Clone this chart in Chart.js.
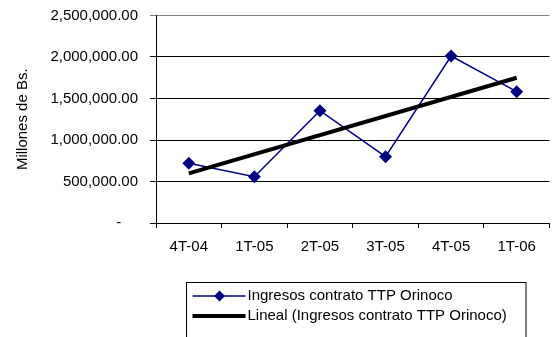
<!DOCTYPE html>
<html>
<head>
<meta charset="utf-8">
<script src="https://cdn.jsdelivr.net/npm/chart.js@4/dist/chart.umd.min.js"></script>
<style>
  html, body { margin: 0; padding: 0; background: #fff; }
  #wrap { width: 556px; height: 337px; }
</style>
</head>
<body>
<div id="wrap"><canvas id="grafico"></canvas></div>
<script>
var periodos = ['4T-04', '1T-05', '2T-05', '3T-05', '4T-05', '1T-06'];
var ingresos = [719000, 558000, 1353000, 799000, 2012000, 1582000];
// linea de tendencia (extremos)
var lineal = [598000, null, null, null, null, 1750000];
var nombreSerie = 'Ingresos contrato TTP Orinoco';
var nombreLineal = 'Lineal (Ingresos contrato TTP Orinoco)';

Chart.defaults.font.family = "'Liberation Sans', Arial, sans-serif";
Chart.defaults.font.size = 15;
Chart.defaults.color = '#000';

var leyenda = {
    id: 'leyenda',
    afterDraw: function(chart) {
        var c = chart.ctx;
        var x0 = 186.5, y0 = 282.5;
        c.save();
        c.strokeStyle = '#000';
        c.lineWidth = 1;
        c.strokeRect(x0, y0, 339.5, 70);
        // serie
        c.strokeStyle = '#000080';
        c.lineWidth = 1.5;
        c.beginPath();
        c.moveTo(x0 + 6, 296);
        c.lineTo(x0 + 59, 296);
        c.stroke();
        c.fillStyle = '#000080';
        c.beginPath();
        var cx = x0 + 33, cy = 296, r = 5.5;
        c.moveTo(cx, cy - r); c.lineTo(cx + r, cy); c.lineTo(cx, cy + r); c.lineTo(cx - r, cy);
        c.closePath();
        c.fill();
        // lineal
        c.strokeStyle = '#000';
        c.lineWidth = 4;
        c.beginPath();
        c.moveTo(x0 + 6, 316);
        c.lineTo(x0 + 59, 316);
        c.stroke();
        c.fillStyle = '#000';
        c.font = "15px 'Liberation Sans', Arial, sans-serif";
        c.textBaseline = 'middle';
        c.fillText(nombreSerie, x0 + 61, 296);
        c.fillText(nombreLineal, x0 + 61, 316);
        c.restore();
    }
};

var ctx = document.getElementById('grafico').getContext('2d');
var grafico = new Chart(ctx, {
    type: 'line',
    data: {
        labels: periodos,
        datasets: [{
            label: nombreSerie,
            data: ingresos,
            borderColor: '#000080',
            backgroundColor: '#000080',
            borderWidth: 1.5,
            pointStyle: 'rectRot',
            pointRadius: 6.5,
            pointBorderWidth: 0,
            tension: 0,
            order: 1
        }, {
            label: nombreLineal,
            data: lineal,
            borderColor: '#000',
            borderWidth: 4,
            pointRadius: 0,
            spanGaps: true,
            order: 0
        }]
    },
    options: {
        responsive: true,
        maintainAspectRatio: false,
        animation: false,
        layout: { padding: { top: 15.5, right: 0, bottom: 71, left: 0 } },
        plugins: {
            legend: { display: false },
            tooltip: { enabled: false }
        },
        scales: {
            x: {
                offset: true,
                afterFit: function(scale) { scale.paddingLeft = 0; scale.paddingRight = 0; },
                grid: {
                    offset: true,
                    drawOnChartArea: false,
                    color: '#000',
                    tickLength: 5
                },
                border: { color: '#000', width: 1 },
                ticks: { padding: 10, maxRotation: 0 }
            },
            y: {
                min: 0,
                max: 2500000,
                afterFit: function(scale) {
                    scale.width = 156;
                    scale.paddingTop = 0;
                    scale.paddingBottom = 0;
                },
                grid: {
                    color: function(c) { return c.tick && c.tick.value === 2500000 ? '#808080' : '#000'; },
                    tickLength: 6
                },
                border: { color: '#000', width: 1 },
                ticks: {
                    stepSize: 500000,
                    padding: 12,
                    callback: function(v) {
                        if (v === 0) return '-    ';
                        return v.toLocaleString('en-US', { minimumFractionDigits: 2, maximumFractionDigits: 2 });
                    }
                },
                title: {
                    display: true,
                    text: 'Millones de Bs.',
                    font: { size: 15 },
                    padding: { top: 14, bottom: 0 }
                }
            }
        }
    },
    plugins: [leyenda]
});
</script>
</body>
</html>
